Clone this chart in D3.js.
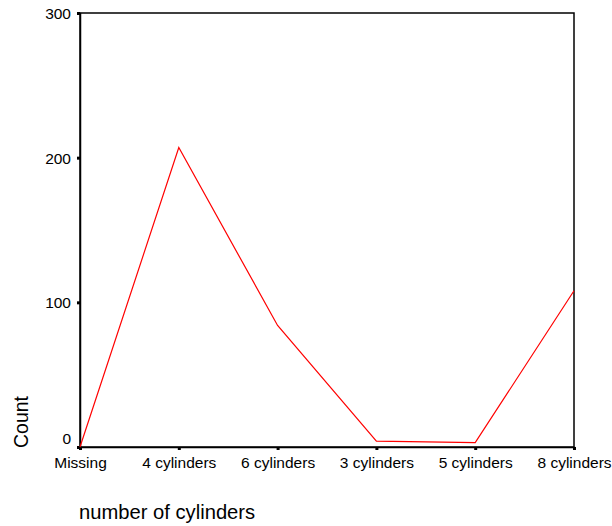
<!DOCTYPE html>
<html><head><meta charset="utf-8">
<script src="https://cdn.jsdelivr.net/npm/d3@7/dist/d3.min.js"></script>
<style>body{margin:0;background:#fff}svg{display:block}text{font-family:"Liberation Sans",Arial,Helvetica,sans-serif;fill:#000}</style>
</head><body>
<svg id="c" width="612" height="526"></svg>
<script>
const categories = ["Missing","4 cylinders","6 cylinders","3 cylinders","5 cylinders","8 cylinders"];
const counts = [0, 207, 84, 4, 3, 108];
const yTicks = [0, 100, 200, 300];

const svg = d3.select("#c");
const L = 80, R = 574, T = 13, B = 447;
const x = d3.scalePoint().domain(categories).range([L, R]).padding(0);
const y = d3.scaleLinear().domain([0, 300]).range([B, T]);

// frame
svg.append("rect").attr("x", L).attr("y", T).attr("width", R - L).attr("height", B - T)
  .attr("fill", "none").attr("stroke", "#000").attr("stroke-width", 1.5);

// y axis
const ya = svg.append("g").attr("transform", `translate(${L},0)`)
  .call(d3.axisLeft(y).tickValues(yTicks).tickSize(3).tickPadding(6));
ya.select(".domain").attr("stroke-width", 1.5);
ya.selectAll(".tick line").attr("stroke-width", 3);
ya.selectAll(".tick text").attr("font-size", 15.5).attr("dy", "0.35em");
ya.selectAll(".tick").filter(d => d === 0).select("text").attr("dy", "-0.2em");

// x axis
const xa = svg.append("g").attr("transform", `translate(0,${B})`)
  .call(d3.axisBottom(x).tickSize(3).tickPadding(7));
xa.select(".domain").attr("stroke-width", 1.5);
xa.selectAll(".tick line").attr("stroke-width", 3);
xa.selectAll(".tick text").attr("font-size", 15.5);

// line
svg.append("path")
  .datum(categories.map((c, i) => [c, counts[i]]))
  .attr("fill", "none").attr("stroke", "#ff0000").attr("stroke-width", 1.2)
  .attr("d", d3.line().x(d => x(d[0])).y(d => y(d[1])));

// axis titles
svg.append("text").attr("transform", "translate(28,448) rotate(-90)")
  .attr("font-size", 19.5).text("Count");
svg.append("text").attr("x", 79).attr("y", 519).attr("font-size", 20.2).text("number of cylinders");
</script>
</body></html>
